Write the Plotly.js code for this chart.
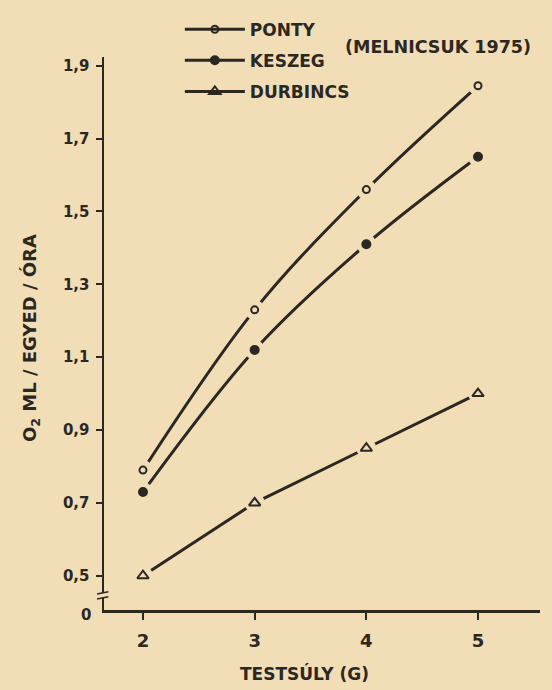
<!DOCTYPE html>
<html>
<head>
<meta charset="utf-8">
<script src="https://cdn.plot.ly/plotly-3.0.1.min.js"></script>
<style>
  html, body { margin: 0; padding: 0; background: #f1ddb6; }
  #chart { width: 552px; height: 690px; }
</style>
</head>
<body>
<div id="chart"></div>
<script>
// ---- data ----
const testsuly = [2, 3, 4, 5];
const ponty    = [0.79, 1.23, 1.56, 1.845];
const keszeg   = [0.73, 1.12, 1.41, 1.65];
const durbincs = [0.50, 0.70, 0.85, 1.00];
const seriesNames = ["PONTY", "KESZEG", "DURBINCS"];
const yTickVals = [0.5, 0.7, 0.9, 1.1, 1.3, 1.5, 1.7, 1.9];
const yTickText = ["0,5", "0,7", "0,9", "1,1", "1,3", "1,5", "1,7", "1,9"];
const xTickVals = [2, 3, 4, 5];

// ---- style ----
const BG = "#f1ddb6";
const INK = "#2b2723";
const FONT = "DejaVu Sans";

const seriesData = [ponty, keszeg, durbincs];
const symbols = ["circle-open", "circle", "triangle-up-open"];
const sizes = [7, 8, 10];
const shapesLine = ["spline", "spline", "linear"];

const traces = [];
// line traces (with legend entries)
seriesData.forEach((ys, i) => {
  traces.push({
    x: testsuly, y: ys, name: seriesNames[i], legendgroup: "g" + i,
    type: "scatter", mode: "lines+markers",
    line: { color: INK, width: 3, shape: shapesLine[i], smoothing: 1 },
    marker: { symbol: symbols[i], size: sizes[i], color: INK, line: { color: INK, width: 2 } },
    hoverinfo: "skip"
  });
});
// halo: paper-coloured gap around each marker
seriesData.forEach((ys, i) => {
  traces.push({
    x: testsuly, y: ys, type: "scatter", mode: "markers", showlegend: false,
    marker: { symbol: "circle", size: 20, color: BG, line: { width: 0 } },
    hoverinfo: "skip"
  });
});
// markers on top
seriesData.forEach((ys, i) => {
  traces.push({
    x: testsuly, y: ys, type: "scatter", mode: "markers", showlegend: false,
    marker: { symbol: symbols[i], size: sizes[i], color: INK, line: { color: INK, width: 2 } },
    hoverinfo: "skip"
  });
});

const layout = {
  width: 552, height: 690,
  paper_bgcolor: BG, plot_bgcolor: BG,
  margin: { l: 104, r: 12, t: 43, b: 80 },
  font: { family: FONT, color: INK, weight: "bold" },
  showlegend: true,
  legend: {
    x: 0.174, y: 1.082, xanchor: "left", yanchor: "top",
    bgcolor: "rgba(0,0,0,0)", font: { family: FONT, size: 17, color: INK, weight: "bold" },
    itemwidth: 60, tracegroupgap: 6
  },
  xaxis: {
    range: [1.651, 5.555], showgrid: false, zeroline: false,
    showline: true, linecolor: INK, linewidth: 2.5,
    ticks: "outside", ticklen: 7, tickwidth: 2, tickcolor: INK,
    tickvals: xTickVals, ticktext: xTickVals.map(String),
    tickfont: { family: FONT, size: 18, color: INK, weight: "bold" },
    ticklabelstandoff: 6, fixedrange: true
  },
  yaxis: {
    range: [0.406, 1.924], showgrid: false, zeroline: false,
    showline: true, linecolor: INK, linewidth: 2.5,
    ticks: "outside", ticklen: 6, tickwidth: 2, tickcolor: INK,
    tickvals: yTickVals, ticktext: yTickText,
    tickfont: { family: FONT, size: 15, color: INK, weight: "bold" },
    ticklabelstandoff: 3, fixedrange: true
  },
  annotations: [
    { text: "(MELNICSUK 1975)", xref: "paper", yref: "paper", x: 0.548, y: 1.0176,
      xanchor: "left", yanchor: "middle", showarrow: false,
      font: { family: FONT, size: 17.5, color: INK, weight: "bold" } },
    { text: "TESTSÚLY (G)", xref: "paper", yref: "paper", x: 0.46, y: -0.115,
      xanchor: "center", yanchor: "middle", showarrow: false,
      font: { family: FONT, size: 17, color: INK, weight: "bold" } },
    { text: "O<sub>2</sub> ML / EGYED / ÓRA", xref: "paper", yref: "paper", x: -0.167, y: 0.492,
      xanchor: "center", yanchor: "middle", showarrow: false, textangle: -90,
      font: { family: FONT, size: 18, color: INK, weight: "bold" } },
    { text: "0", xref: "paper", yref: "paper", x: -0.042, y: -0.009,
      xanchor: "center", yanchor: "middle", showarrow: false,
      font: { family: FONT, size: 15, color: INK, weight: "bold" } }
  ],
  shapes: [
    // axis break marks
    { type: "rect", xref: "paper", yref: "paper", x0: -0.01, x1: 0.01, y0: 0.022, y1: 0.031,
      fillcolor: BG, line: { width: 0 }, layer: "above" },
    { type: "line", xref: "paper", yref: "paper", x0: -0.016, x1: 0.01, y0: 0.029, y1: 0.033,
      line: { color: INK, width: 1.5 }, layer: "above" },
    { type: "line", xref: "paper", yref: "paper", x0: -0.016, x1: 0.01, y0: 0.020, y1: 0.024,
      line: { color: INK, width: 1.5 }, layer: "above" }
  ]
};

Plotly.newPlot("chart", traces, layout, { displayModeBar: false, staticPlot: true });
</script>
</body>
</html>
